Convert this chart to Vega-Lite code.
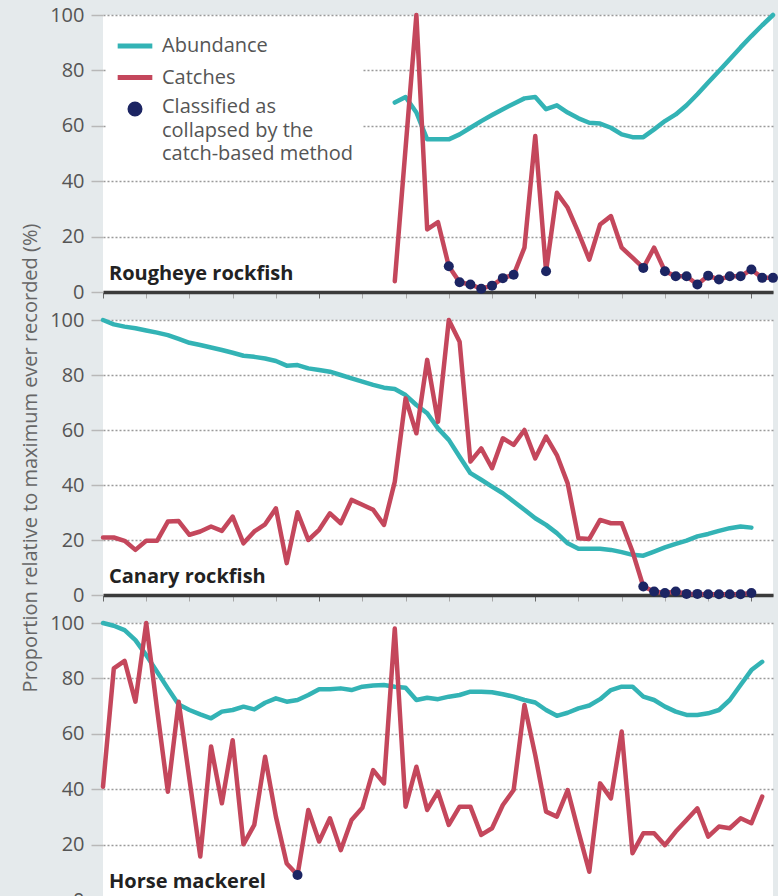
{
  "$schema": "https://vega.github.io/schema/vega-lite/v6.json",
  "padding": {"left": 20, "top": 5, "right": 0, "bottom": 0},
  "config": {
    "background": "#e5eaec",
    "font": "Open Sans",
    "view": {"fill": "white", "stroke": null}
  },
  "data": {
    "values": [
      {"species": "Rougheye rockfish", "year": 1977, "Abundance": 68.4, "Catches": 3.9, "collapsed": false},
      {"species": "Rougheye rockfish", "year": 1978, "Abundance": 70.4, "Catches": 52, "collapsed": false},
      {"species": "Rougheye rockfish", "year": 1979, "Abundance": 64.8, "Catches": 100, "collapsed": false},
      {"species": "Rougheye rockfish", "year": 1980, "Abundance": 55.1, "Catches": 22.6, "collapsed": false},
      {"species": "Rougheye rockfish", "year": 1981, "Abundance": 55.1, "Catches": 25.2, "collapsed": false},
      {"species": "Rougheye rockfish", "year": 1982, "Abundance": 55.1, "Catches": 9.3, "collapsed": true},
      {"species": "Rougheye rockfish", "year": 1983, "Abundance": 56.9, "Catches": 3.5, "collapsed": true},
      {"species": "Rougheye rockfish", "year": 1984, "Abundance": 59.3, "Catches": 2.7, "collapsed": true},
      {"species": "Rougheye rockfish", "year": 1985, "Abundance": 61.7, "Catches": 1.2, "collapsed": true},
      {"species": "Rougheye rockfish", "year": 1986, "Abundance": 63.9, "Catches": 2.3, "collapsed": true},
      {"species": "Rougheye rockfish", "year": 1987, "Abundance": 66, "Catches": 5, "collapsed": true},
      {"species": "Rougheye rockfish", "year": 1988, "Abundance": 68, "Catches": 6.2, "collapsed": true},
      {"species": "Rougheye rockfish", "year": 1989, "Abundance": 69.9, "Catches": 16, "collapsed": false},
      {"species": "Rougheye rockfish", "year": 1990, "Abundance": 70.4, "Catches": 56.3, "collapsed": false},
      {"species": "Rougheye rockfish", "year": 1991, "Abundance": 66, "Catches": 7.5, "collapsed": true},
      {"species": "Rougheye rockfish", "year": 1992, "Abundance": 67.4, "Catches": 35.8, "collapsed": false},
      {"species": "Rougheye rockfish", "year": 1993, "Abundance": 64.8, "Catches": 30.4, "collapsed": false},
      {"species": "Rougheye rockfish", "year": 1994, "Abundance": 62.7, "Catches": 21.4, "collapsed": false},
      {"species": "Rougheye rockfish", "year": 1995, "Abundance": 61.1, "Catches": 11.7, "collapsed": false},
      {"species": "Rougheye rockfish", "year": 1996, "Abundance": 60.8, "Catches": 24.4, "collapsed": false},
      {"species": "Rougheye rockfish", "year": 1997, "Abundance": 59.3, "Catches": 27.4, "collapsed": false},
      {"species": "Rougheye rockfish", "year": 1998, "Abundance": 56.9, "Catches": 16, "collapsed": false},
      {"species": "Rougheye rockfish", "year": 1999, "Abundance": 55.9, "Catches": 12.4, "collapsed": false},
      {"species": "Rougheye rockfish", "year": 2000, "Abundance": 55.9, "Catches": 8.7, "collapsed": true},
      {"species": "Rougheye rockfish", "year": 2001, "Abundance": 58.7, "Catches": 16, "collapsed": false},
      {"species": "Rougheye rockfish", "year": 2002, "Abundance": 61.7, "Catches": 7.5, "collapsed": true},
      {"species": "Rougheye rockfish", "year": 2003, "Abundance": 64.1, "Catches": 5.7, "collapsed": true},
      {"species": "Rougheye rockfish", "year": 2004, "Abundance": 67.4, "Catches": 5.7, "collapsed": true},
      {"species": "Rougheye rockfish", "year": 2005, "Abundance": 71.4, "Catches": 2.7, "collapsed": true},
      {"species": "Rougheye rockfish", "year": 2006, "Abundance": 75.6, "Catches": 5.9, "collapsed": true},
      {"species": "Rougheye rockfish", "year": 2007, "Abundance": 79.8, "Catches": 4.5, "collapsed": true},
      {"species": "Rougheye rockfish", "year": 2008, "Abundance": 84, "Catches": 5.7, "collapsed": true},
      {"species": "Rougheye rockfish", "year": 2009, "Abundance": 88.3, "Catches": 5.7, "collapsed": true},
      {"species": "Rougheye rockfish", "year": 2010, "Abundance": 92.4, "Catches": 8.1, "collapsed": true},
      {"species": "Rougheye rockfish", "year": 2011, "Abundance": 96.3, "Catches": 5.1, "collapsed": true},
      {"species": "Rougheye rockfish", "year": 2012, "Abundance": 100, "Catches": 5.1, "collapsed": true},

      {"species": "Canary rockfish", "year": 1950, "Abundance": 100, "Catches": 20.9, "collapsed": false},
      {"species": "Canary rockfish", "year": 1951, "Abundance": 98.4, "Catches": 20.9, "collapsed": false},
      {"species": "Canary rockfish", "year": 1952, "Abundance": 97.6, "Catches": 19.7, "collapsed": false},
      {"species": "Canary rockfish", "year": 1953, "Abundance": 97, "Catches": 16.4, "collapsed": false},
      {"species": "Canary rockfish", "year": 1954, "Abundance": 96.2, "Catches": 19.7, "collapsed": false},
      {"species": "Canary rockfish", "year": 1955, "Abundance": 95.4, "Catches": 19.7, "collapsed": false},
      {"species": "Canary rockfish", "year": 1956, "Abundance": 94.5, "Catches": 26.7, "collapsed": false},
      {"species": "Canary rockfish", "year": 1957, "Abundance": 93.1, "Catches": 26.9, "collapsed": false},
      {"species": "Canary rockfish", "year": 1958, "Abundance": 91.7, "Catches": 21.9, "collapsed": false},
      {"species": "Canary rockfish", "year": 1959, "Abundance": 90.9, "Catches": 23.1, "collapsed": false},
      {"species": "Canary rockfish", "year": 1960, "Abundance": 90, "Catches": 24.9, "collapsed": false},
      {"species": "Canary rockfish", "year": 1961, "Abundance": 89.1, "Catches": 23.3, "collapsed": false},
      {"species": "Canary rockfish", "year": 1962, "Abundance": 88.1, "Catches": 28.5, "collapsed": false},
      {"species": "Canary rockfish", "year": 1963, "Abundance": 87, "Catches": 18.8, "collapsed": false},
      {"species": "Canary rockfish", "year": 1964, "Abundance": 86.6, "Catches": 23.1, "collapsed": false},
      {"species": "Canary rockfish", "year": 1965, "Abundance": 86, "Catches": 25.7, "collapsed": false},
      {"species": "Canary rockfish", "year": 1966, "Abundance": 85.1, "Catches": 31.5, "collapsed": false},
      {"species": "Canary rockfish", "year": 1967, "Abundance": 83.4, "Catches": 11.6, "collapsed": false},
      {"species": "Canary rockfish", "year": 1968, "Abundance": 83.6, "Catches": 30.1, "collapsed": false},
      {"species": "Canary rockfish", "year": 1969, "Abundance": 82.4, "Catches": 20, "collapsed": false},
      {"species": "Canary rockfish", "year": 1970, "Abundance": 81.8, "Catches": 23.7, "collapsed": false},
      {"species": "Canary rockfish", "year": 1971, "Abundance": 81.2, "Catches": 29.7, "collapsed": false},
      {"species": "Canary rockfish", "year": 1972, "Abundance": 80, "Catches": 26.1, "collapsed": false},
      {"species": "Canary rockfish", "year": 1973, "Abundance": 78.8, "Catches": 34.6, "collapsed": false},
      {"species": "Canary rockfish", "year": 1974, "Abundance": 77.6, "Catches": 32.8, "collapsed": false},
      {"species": "Canary rockfish", "year": 1975, "Abundance": 76.4, "Catches": 31, "collapsed": false},
      {"species": "Canary rockfish", "year": 1976, "Abundance": 75.4, "Catches": 25.5, "collapsed": false},
      {"species": "Canary rockfish", "year": 1977, "Abundance": 74.9, "Catches": 41.2, "collapsed": false},
      {"species": "Canary rockfish", "year": 1978, "Abundance": 72.7, "Catches": 71.5, "collapsed": false},
      {"species": "Canary rockfish", "year": 1979, "Abundance": 69.1, "Catches": 58.8, "collapsed": false},
      {"species": "Canary rockfish", "year": 1980, "Abundance": 66.1, "Catches": 85.5, "collapsed": false},
      {"species": "Canary rockfish", "year": 1981, "Abundance": 60.6, "Catches": 63, "collapsed": false},
      {"species": "Canary rockfish", "year": 1982, "Abundance": 56.4, "Catches": 100, "collapsed": false},
      {"species": "Canary rockfish", "year": 1983, "Abundance": 50.3, "Catches": 92.1, "collapsed": false},
      {"species": "Canary rockfish", "year": 1984, "Abundance": 44.3, "Catches": 48.5, "collapsed": false},
      {"species": "Canary rockfish", "year": 1985, "Abundance": 41.9, "Catches": 53.3, "collapsed": false},
      {"species": "Canary rockfish", "year": 1986, "Abundance": 39.4, "Catches": 46.1, "collapsed": false},
      {"species": "Canary rockfish", "year": 1987, "Abundance": 37, "Catches": 57, "collapsed": false},
      {"species": "Canary rockfish", "year": 1988, "Abundance": 34, "Catches": 54.6, "collapsed": false},
      {"species": "Canary rockfish", "year": 1989, "Abundance": 31, "Catches": 60, "collapsed": false},
      {"species": "Canary rockfish", "year": 1990, "Abundance": 27.9, "Catches": 49.7, "collapsed": false},
      {"species": "Canary rockfish", "year": 1991, "Abundance": 25.5, "Catches": 57.6, "collapsed": false},
      {"species": "Canary rockfish", "year": 1992, "Abundance": 22.5, "Catches": 50.9, "collapsed": false},
      {"species": "Canary rockfish", "year": 1993, "Abundance": 18.8, "Catches": 40.6, "collapsed": false},
      {"species": "Canary rockfish", "year": 1994, "Abundance": 16.8, "Catches": 20.6, "collapsed": false},
      {"species": "Canary rockfish", "year": 1995, "Abundance": 16.8, "Catches": 20.4, "collapsed": false},
      {"species": "Canary rockfish", "year": 1996, "Abundance": 16.8, "Catches": 27.3, "collapsed": false},
      {"species": "Canary rockfish", "year": 1997, "Abundance": 16.4, "Catches": 26.1, "collapsed": false},
      {"species": "Canary rockfish", "year": 1998, "Abundance": 15.6, "Catches": 26.1, "collapsed": false},
      {"species": "Canary rockfish", "year": 1999, "Abundance": 14.6, "Catches": 15.8, "collapsed": false},
      {"species": "Canary rockfish", "year": 2000, "Abundance": 14.3, "Catches": 3.1, "collapsed": true},
      {"species": "Canary rockfish", "year": 2001, "Abundance": 15.8, "Catches": 1.3, "collapsed": true},
      {"species": "Canary rockfish", "year": 2002, "Abundance": 17.3, "Catches": 0.7, "collapsed": true},
      {"species": "Canary rockfish", "year": 2003, "Abundance": 18.6, "Catches": 1.3, "collapsed": true},
      {"species": "Canary rockfish", "year": 2004, "Abundance": 19.8, "Catches": 0.4, "collapsed": true},
      {"species": "Canary rockfish", "year": 2005, "Abundance": 21.3, "Catches": 0.4, "collapsed": true},
      {"species": "Canary rockfish", "year": 2006, "Abundance": 22.2, "Catches": 0.3, "collapsed": true},
      {"species": "Canary rockfish", "year": 2007, "Abundance": 23.3, "Catches": 0.3, "collapsed": true},
      {"species": "Canary rockfish", "year": 2008, "Abundance": 24.3, "Catches": 0.3, "collapsed": true},
      {"species": "Canary rockfish", "year": 2009, "Abundance": 24.9, "Catches": 0.3, "collapsed": true},
      {"species": "Canary rockfish", "year": 2010, "Abundance": 24.5, "Catches": 0.7, "collapsed": true},

      {"species": "Horse mackerel", "year": 1950, "Abundance": 100, "Catches": 40.9, "collapsed": false},
      {"species": "Horse mackerel", "year": 1951, "Abundance": 99, "Catches": 83.6, "collapsed": false},
      {"species": "Horse mackerel", "year": 1952, "Abundance": 97.4, "Catches": 86.3, "collapsed": false},
      {"species": "Horse mackerel", "year": 1953, "Abundance": 93.8, "Catches": 71.6, "collapsed": false},
      {"species": "Horse mackerel", "year": 1954, "Abundance": 88.4, "Catches": 100, "collapsed": false},
      {"species": "Horse mackerel", "year": 1955, "Abundance": 82.4, "Catches": 69, "collapsed": false},
      {"species": "Horse mackerel", "year": 1956, "Abundance": 76.4, "Catches": 39.1, "collapsed": false},
      {"species": "Horse mackerel", "year": 1957, "Abundance": 70.6, "Catches": 71.6, "collapsed": false},
      {"species": "Horse mackerel", "year": 1958, "Abundance": 68.6, "Catches": 43.6, "collapsed": false},
      {"species": "Horse mackerel", "year": 1959, "Abundance": 67, "Catches": 15.7, "collapsed": false},
      {"species": "Horse mackerel", "year": 1960, "Abundance": 65.6, "Catches": 55.4, "collapsed": false},
      {"species": "Horse mackerel", "year": 1961, "Abundance": 68, "Catches": 34.9, "collapsed": false},
      {"species": "Horse mackerel", "year": 1962, "Abundance": 68.6, "Catches": 57.7, "collapsed": false},
      {"species": "Horse mackerel", "year": 1963, "Abundance": 69.8, "Catches": 20.1, "collapsed": false},
      {"species": "Horse mackerel", "year": 1964, "Abundance": 68.8, "Catches": 27.1, "collapsed": false},
      {"species": "Horse mackerel", "year": 1965, "Abundance": 71.2, "Catches": 51.7, "collapsed": false},
      {"species": "Horse mackerel", "year": 1966, "Abundance": 72.8, "Catches": 30.1, "collapsed": false},
      {"species": "Horse mackerel", "year": 1967, "Abundance": 71.6, "Catches": 13.2, "collapsed": false},
      {"species": "Horse mackerel", "year": 1968, "Abundance": 72.2, "Catches": 9, "collapsed": true},
      {"species": "Horse mackerel", "year": 1969, "Abundance": 74, "Catches": 32.5, "collapsed": false},
      {"species": "Horse mackerel", "year": 1970, "Abundance": 76.1, "Catches": 21.1, "collapsed": false},
      {"species": "Horse mackerel", "year": 1971, "Abundance": 76.1, "Catches": 29.5, "collapsed": false},
      {"species": "Horse mackerel", "year": 1972, "Abundance": 76.4, "Catches": 18, "collapsed": false},
      {"species": "Horse mackerel", "year": 1973, "Abundance": 75.8, "Catches": 28.9, "collapsed": false},
      {"species": "Horse mackerel", "year": 1974, "Abundance": 77, "Catches": 33.3, "collapsed": false},
      {"species": "Horse mackerel", "year": 1975, "Abundance": 77.4, "Catches": 46.9, "collapsed": false},
      {"species": "Horse mackerel", "year": 1976, "Abundance": 77.6, "Catches": 42.1, "collapsed": false},
      {"species": "Horse mackerel", "year": 1977, "Abundance": 77, "Catches": 98, "collapsed": false},
      {"species": "Horse mackerel", "year": 1978, "Abundance": 76.6, "Catches": 33.7, "collapsed": false},
      {"species": "Horse mackerel", "year": 1979, "Abundance": 72.2, "Catches": 48.1, "collapsed": false},
      {"species": "Horse mackerel", "year": 1980, "Abundance": 73, "Catches": 32.5, "collapsed": false},
      {"species": "Horse mackerel", "year": 1981, "Abundance": 72.5, "Catches": 39.1, "collapsed": false},
      {"species": "Horse mackerel", "year": 1982, "Abundance": 73.4, "Catches": 27.1, "collapsed": false},
      {"species": "Horse mackerel", "year": 1983, "Abundance": 74, "Catches": 33.7, "collapsed": false},
      {"species": "Horse mackerel", "year": 1984, "Abundance": 75.2, "Catches": 33.7, "collapsed": false},
      {"species": "Horse mackerel", "year": 1985, "Abundance": 75.2, "Catches": 23.5, "collapsed": false},
      {"species": "Horse mackerel", "year": 1986, "Abundance": 75, "Catches": 25.9, "collapsed": false},
      {"species": "Horse mackerel", "year": 1987, "Abundance": 74.3, "Catches": 34.3, "collapsed": false},
      {"species": "Horse mackerel", "year": 1988, "Abundance": 73.4, "Catches": 39.7, "collapsed": false},
      {"species": "Horse mackerel", "year": 1989, "Abundance": 72.2, "Catches": 70.4, "collapsed": false},
      {"species": "Horse mackerel", "year": 1990, "Abundance": 71.3, "Catches": 52.3, "collapsed": false},
      {"species": "Horse mackerel", "year": 1991, "Abundance": 68.6, "Catches": 31.9, "collapsed": false},
      {"species": "Horse mackerel", "year": 1992, "Abundance": 66.5, "Catches": 30.1, "collapsed": false},
      {"species": "Horse mackerel", "year": 1993, "Abundance": 67.6, "Catches": 39.7, "collapsed": false},
      {"species": "Horse mackerel", "year": 1994, "Abundance": 69.2, "Catches": 24.7, "collapsed": false},
      {"species": "Horse mackerel", "year": 1995, "Abundance": 70.2, "Catches": 10.2, "collapsed": false},
      {"species": "Horse mackerel", "year": 1996, "Abundance": 72.5, "Catches": 42.1, "collapsed": false},
      {"species": "Horse mackerel", "year": 1997, "Abundance": 75.8, "Catches": 36.7, "collapsed": false},
      {"species": "Horse mackerel", "year": 1998, "Abundance": 77, "Catches": 60.8, "collapsed": false},
      {"species": "Horse mackerel", "year": 1999, "Abundance": 77, "Catches": 16.9, "collapsed": false},
      {"species": "Horse mackerel", "year": 2000, "Abundance": 73.4, "Catches": 24.1, "collapsed": false},
      {"species": "Horse mackerel", "year": 2001, "Abundance": 72.2, "Catches": 24.1, "collapsed": false},
      {"species": "Horse mackerel", "year": 2002, "Abundance": 69.8, "Catches": 19.8, "collapsed": false},
      {"species": "Horse mackerel", "year": 2003, "Abundance": 68, "Catches": 24.7, "collapsed": false},
      {"species": "Horse mackerel", "year": 2004, "Abundance": 66.8, "Catches": 28.9, "collapsed": false},
      {"species": "Horse mackerel", "year": 2005, "Abundance": 66.8, "Catches": 33.1, "collapsed": false},
      {"species": "Horse mackerel", "year": 2006, "Abundance": 67.4, "Catches": 22.9, "collapsed": false},
      {"species": "Horse mackerel", "year": 2007, "Abundance": 68.6, "Catches": 26.5, "collapsed": false},
      {"species": "Horse mackerel", "year": 2008, "Abundance": 72.2, "Catches": 25.9, "collapsed": false},
      {"species": "Horse mackerel", "year": 2009, "Abundance": 77.6, "Catches": 29.5, "collapsed": false},
      {"species": "Horse mackerel", "year": 2010, "Abundance": 83, "Catches": 27.7, "collapsed": false},
      {"species": "Horse mackerel", "year": 2011, "Abundance": 86, "Catches": 37.3, "collapsed": false}
    ]
  },
  "bounds": "flush",
  "spacing": 28,
  "vconcat": [
    {
      "width": 670,
      "height": 277,
      "transform": [
        {"filter": "datum.species === 'Rougheye rockfish'"},
        {"fold": ["Abundance", "Catches"], "as": ["series", "value"]}
      ],
      "layer": [
        {
          "mark": {"type": "line", "strokeWidth": 4.5, "strokeJoin": "round", "strokeCap": "round"},
          "encoding": {
            "x": {"field": "year", "type": "quantitative", "scale": {"domain": [1950, 2012], "nice": false, "zero": false},
              "axis": {"values": [1950,1951,1952,1953,1954,1955,1956,1957,1958,1959,1960,1961,1962,1963,1964,1965,1966,1967,1968,1969,1970,1971,1972,1973,1974,1975,1976,1977,1978,1979,1980,1981,1982,1983,1984,1985,1986,1987,1988,1989,1990,1991,1992,1993,1994,1995,1996,1997,1998,1999,2000,2001,2002,2003,2004,2005,2006,2007,2008,2009,2010,2011,2012],
                "labels": false, "title": null, "grid": false, "domainColor": "#3b3b3b", "domainWidth": 3.5, "tickWidth": 1, "tickSize": 6,
                "tickColor": {"condition": {"test": "datum.value % 10 === 0", "value": "#6a6a6a"}, "value": "#a8a8a8"}}},
            "y": {"field": "value", "type": "quantitative", "scale": {"domain": [0, 100], "nice": false},
              "axis": {"values": [0, 20, 40, 60, 80, 100], "title": null, "domain": false, "grid": true, "gridColor": "#9a9a9a", "gridDash": [2, 2], "gridWidth": 1.5,
                "tickSize": 12, "tickColor": "#b8b8b8", "tickWidth": 1.5, "labelFontSize": 20, "labelColor": "#555555", "labelPadding": 7, "labelFont": "Open Sans"}},
            "color": {"field": "series", "type": "nominal",
              "scale": {"domain": ["Abundance", "Catches", "Collapsed"], "range": ["#33b3b5", "#c4475c", "#1c2563"]},
              "legend": {
                "title": null, "orient": "none", "legendX": 4, "legendY": 3,
                "fillColor": "white", "padding": 8,
                "symbolType": "stroke", "symbolSize": 1200, "symbolStrokeWidth": 5,
                "labelFont": "Open Sans", "labelFontSize": 20, "labelColor": "#555555",
                "labelOffset": 7, "rowPadding": 1.5, "labelLimit": 400,
                "labelExpr": "datum.value === 'Collapsed' ? ['Classified as', 'collapsed by the', 'catch-based method'] : datum.label",
                "encode": {
                  "symbols": {"update": {
                    "shape": {"signal": "datum.value === 'Collapsed' ? 'circle' : 'stroke'"},
                    "size": {"signal": "datum.value === 'Collapsed' ? 100 : 1200"},
                    "fill": {"signal": "datum.value === 'Collapsed' ? '#1c2563' : 'transparent'"},
                    "stroke": {"signal": "datum.value === 'Collapsed' ? 'transparent' : scale('color', datum.value)"},
                    "strokeWidth": {"value": 5}
                  }},
                  "labels": {"update": {
                    "lineHeight": {"value": 23.5},
                    "baseline": {"signal": "datum.value === 'Collapsed' ? 'top' : 'middle'"},
                    "dy": {"signal": "datum.value === 'Collapsed' ? -12 : 0"}
                  }}
                }
              }}
          }
        },
        {
          "transform": [{"filter": "datum.series === 'Catches' && datum.collapsed"}],
          "mark": {"type": "point", "filled": true, "size": 100, "opacity": 1},
          "encoding": {
            "x": {"field": "year", "type": "quantitative"},
            "y": {"field": "value", "type": "quantitative"},
            "color": {"datum": "Collapsed"}
          }
        },
        {
          "transform": [{"aggregate": [{"op": "count", "as": "n"}], "groupby": ["species"]}],
          "mark": {"type": "text", "align": "left", "baseline": "alphabetic", "fontSize": 20, "fontWeight": "bold", "color": "#222222", "font": "Open Sans"},
          "encoding": {
            "x": {"datum": 1950.55, "type": "quantitative"},
            "y": {"datum": 4.5, "type": "quantitative"},
            "text": {"field": "species"}
          }
        }
      ]
    },
    {
      "width": 670,
      "height": 275,
      "transform": [
        {"filter": "datum.species === 'Canary rockfish'"},
        {"fold": ["Abundance", "Catches"], "as": ["series", "value"]}
      ],
      "layer": [
        {
          "mark": {"type": "line", "strokeWidth": 4.5, "strokeJoin": "round", "strokeCap": "round"},
          "encoding": {
            "x": {"field": "year", "type": "quantitative", "scale": {"domain": [1950, 2012], "nice": false, "zero": false},
              "axis": {"values": [1950,1951,1952,1953,1954,1955,1956,1957,1958,1959,1960,1961,1962,1963,1964,1965,1966,1967,1968,1969,1970,1971,1972,1973,1974,1975,1976,1977,1978,1979,1980,1981,1982,1983,1984,1985,1986,1987,1988,1989,1990,1991,1992,1993,1994,1995,1996,1997,1998,1999,2000,2001,2002,2003,2004,2005,2006,2007,2008,2009,2010,2011,2012],
                "labels": false, "title": null, "grid": false, "domainColor": "#3b3b3b", "domainWidth": 3.5, "tickWidth": 1, "tickSize": 6,
                "tickColor": {"condition": {"test": "datum.value % 10 === 0", "value": "#6a6a6a"}, "value": "#a8a8a8"}}},
            "y": {"field": "value", "type": "quantitative", "scale": {"domain": [0, 100], "nice": false},
              "axis": {"values": [0, 20, 40, 60, 80, 100], "title": "Proportion relative to maximum ever recorded (%)", "titleFontSize": 20, "titleFontWeight": "normal", "titleColor": "#666666", "titlePadding": 9, "titleFont": "Open Sans",
                "domain": false, "grid": true, "gridColor": "#9a9a9a", "gridDash": [2, 2], "gridWidth": 1.5,
                "tickSize": 12, "tickColor": "#b8b8b8", "tickWidth": 1.5, "labelFontSize": 20, "labelColor": "#555555", "labelPadding": 7, "labelFont": "Open Sans"}},
            "color": {"field": "series", "type": "nominal"}
          }
        },
        {
          "transform": [{"filter": "datum.series === 'Catches' && datum.collapsed"}],
          "mark": {"type": "point", "filled": true, "size": 100, "opacity": 1},
          "encoding": {
            "x": {"field": "year", "type": "quantitative"},
            "y": {"field": "value", "type": "quantitative"},
            "color": {"datum": "Collapsed"}
          }
        },
        {
          "transform": [{"aggregate": [{"op": "count", "as": "n"}], "groupby": ["species"]}],
          "mark": {"type": "text", "align": "left", "baseline": "alphabetic", "fontSize": 20, "fontWeight": "bold", "color": "#222222", "font": "Open Sans"},
          "encoding": {
            "x": {"datum": 1950.55, "type": "quantitative"},
            "y": {"datum": 4.5, "type": "quantitative"},
            "text": {"field": "species"}
          }
        }
      ]
    },
    {
      "width": 670,
      "height": 277,
      "transform": [
        {"filter": "datum.species === 'Horse mackerel'"},
        {"fold": ["Abundance", "Catches"], "as": ["series", "value"]}
      ],
      "layer": [
        {
          "mark": {"type": "line", "strokeWidth": 4.5, "strokeJoin": "round", "strokeCap": "round"},
          "encoding": {
            "x": {"field": "year", "type": "quantitative", "scale": {"domain": [1950, 2012], "nice": false, "zero": false},
              "axis": {"values": [1950,1951,1952,1953,1954,1955,1956,1957,1958,1959,1960,1961,1962,1963,1964,1965,1966,1967,1968,1969,1970,1971,1972,1973,1974,1975,1976,1977,1978,1979,1980,1981,1982,1983,1984,1985,1986,1987,1988,1989,1990,1991,1992,1993,1994,1995,1996,1997,1998,1999,2000,2001,2002,2003,2004,2005,2006,2007,2008,2009,2010,2011,2012],
                "labels": false, "title": null, "grid": false, "domainColor": "#3b3b3b", "domainWidth": 3.5, "tickWidth": 1, "tickSize": 6,
                "tickColor": {"condition": {"test": "datum.value % 10 === 0", "value": "#6a6a6a"}, "value": "#a8a8a8"}}},
            "y": {"field": "value", "type": "quantitative", "scale": {"domain": [0, 100], "nice": false},
              "axis": {"values": [0, 20, 40, 60, 80, 100], "title": null, "domain": false, "grid": true, "gridColor": "#9a9a9a", "gridDash": [2, 2], "gridWidth": 1.5,
                "tickSize": 12, "tickColor": "#b8b8b8", "tickWidth": 1.5, "labelFontSize": 20, "labelColor": "#555555", "labelPadding": 7, "labelFont": "Open Sans"}},
            "color": {"field": "series", "type": "nominal"}
          }
        },
        {
          "transform": [{"filter": "datum.series === 'Catches' && datum.collapsed"}],
          "mark": {"type": "point", "filled": true, "size": 100, "opacity": 1},
          "encoding": {
            "x": {"field": "year", "type": "quantitative"},
            "y": {"field": "value", "type": "quantitative"},
            "color": {"datum": "Collapsed"}
          }
        },
        {
          "transform": [{"aggregate": [{"op": "count", "as": "n"}], "groupby": ["species"]}],
          "mark": {"type": "text", "align": "left", "baseline": "alphabetic", "fontSize": 20, "fontWeight": "bold", "color": "#222222", "font": "Open Sans"},
          "encoding": {
            "x": {"datum": 1950.55, "type": "quantitative"},
            "y": {"datum": 4.5, "type": "quantitative"},
            "text": {"field": "species"}
          }
        }
      ]
    }
  ]
}
